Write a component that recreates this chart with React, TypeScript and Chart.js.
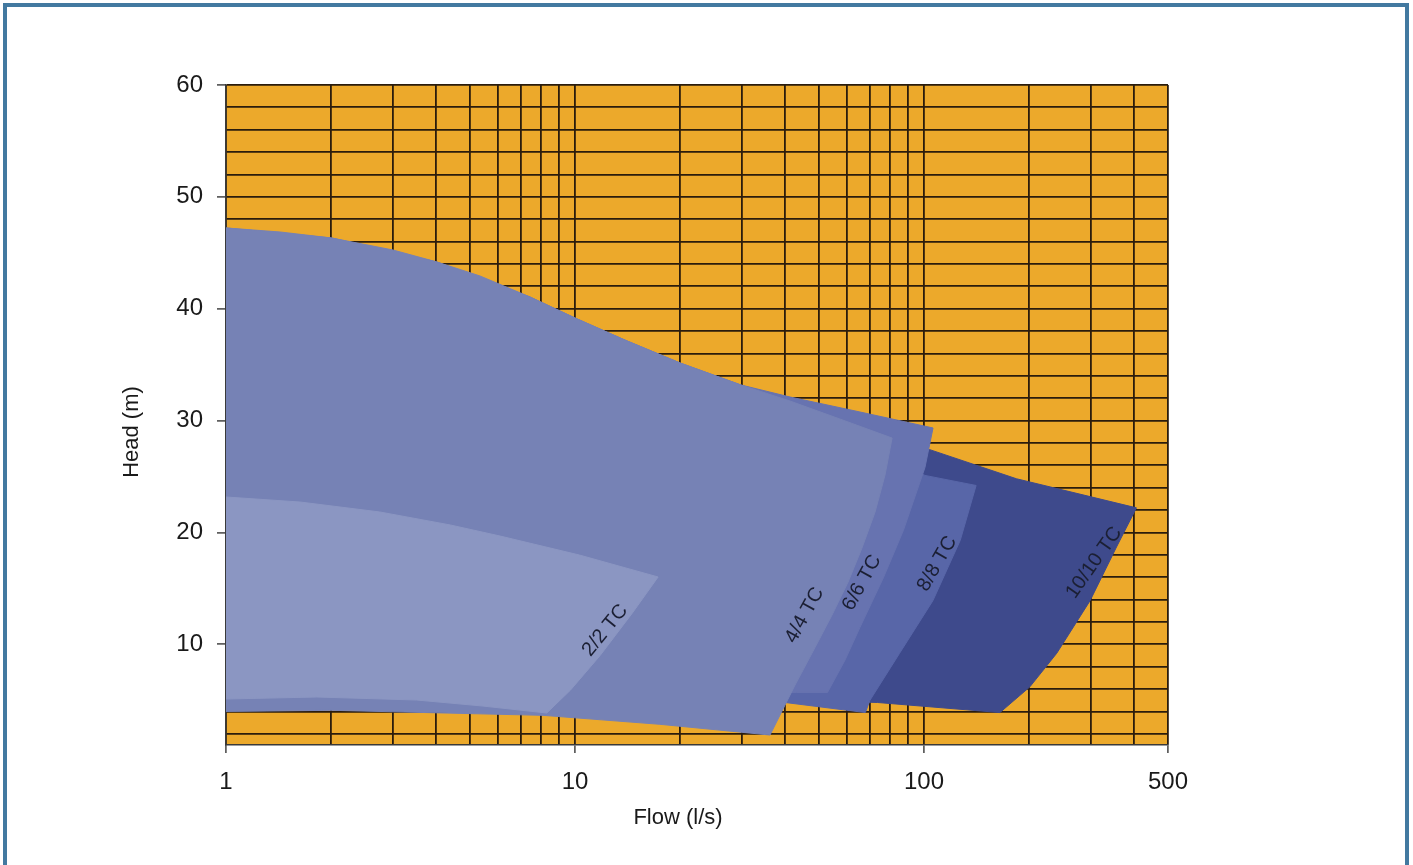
import { useEffect, useRef } from 'react';
import { Chart, registerables } from 'chart.js';

Chart.register(...registerables);

// ---- axes ----
const flowTicks = [1, 2, 3, 4, 5, 6, 7, 8, 9, 10, 20, 30, 40, 50, 60, 70, 80, 90, 100, 200, 300, 400, 500];
const flowTickLabels = [1, 10, 100, 500];
const headTicks = [2, 4, 6, 8, 10, 12, 14, 16, 18, 20, 22, 24, 26, 28, 30, 32, 34, 36, 38, 40, 42, 44, 46, 48, 50, 52, 54, 56, 58, 60];
const headTickLabels = [10, 20, 30, 40, 50, 60];

// ---- pump ranges (flow l/s, head m), outline of each area ----
const flow22 = [1, 1.63, 2.76, 4.39, 6.1, 10.3, 17.3, 14.6, 11.8, 9.7, 8.3, 5.45, 3.52, 1.82, 1, 1];
const head22 = [23.17, 22.72, 21.83, 20.67, 19.68, 17.98, 16.02, 12.8, 9.0, 5.9, 3.86, 4.48, 5.02, 5.29, 5.11, 23.17];

const flow44 = [1, 1.43, 2.01, 3.01, 4.02, 5.34, 7.43, 10, 13.9, 20, 29.9, 41.3, 57.4, 81, 77.3, 72.4, 66.4, 60.6, 54.5, 48.7, 42.7, 36.2, 17.5, 8.1, 2.01, 1, 1];
const head44 = [47.22, 46.86, 46.32, 45.25, 44.18, 42.93, 41.05, 39.17, 37.2, 35.15, 33.18, 31.75, 30.14, 28.44, 25.13, 21.83, 18.61, 15.57, 12.62, 9.71, 6.36, 1.89, 2.85, 3.65, 4.1, 4.0, 47.22];

const flow66 = [1, 2.01, 4.02, 7.43, 10, 13.9, 20, 29.9, 41.3, 65.5, 106.1, 100.6, 87.3, 76.6, 65.5, 59.4, 52.9, 43.1, 1, 1];
const head66 = [47.22, 46.32, 44.18, 41.05, 39.17, 37.2, 35.15, 33.18, 32.11, 30.77, 29.34, 25.8, 20.2, 16.0, 11.5, 8.6, 5.7, 5.7, 5.8, 47.22];

const flow88 = [22.8, 65.5, 100.6, 141, 127, 106, 85.1, 70, 67.9, 40, 22.8, 22.8];
const head88 = [31.7, 28.25, 25.1, 24.2, 19.3, 13.9, 9.2, 5.0, 3.9, 4.8, 5.0, 31.7];

const flow1010 = [44.1, 103.9, 184, 406, 356, 299, 240, 201, 165, 73.6, 44.1, 44.1];
const head1010 = [29.6, 27.4, 24.8, 22.2, 18.7, 13.9, 9.2, 6.2, 3.9, 4.8, 5.0, 29.6];

// ---- range labels ----
const labelTexts = ['2/2 TC', '4/4 TC', '6/6 TC', '8/8 TC', '10/10 TC'];
const labelFlow = [12.2, 45.5, 66.4, 109, 307];
const labelHead = [11.25, 12.6, 15.5, 17.2, 17.3];
const labelAngle = [-51, -61, -61, -60, -55];

const FONT = '"Liberation Sans", Arial, Helvetica, sans-serif';

const toPoints = (f: number[], h: number[]) => f.map((x, i) => ({ x, y: h[i] }));

const area = (label: string, f: number[], h: number[], color: string, order: number) => ({
  label,
  data: toPoints(f, h),
  showLine: true,
  fill: 'shape',
  backgroundColor: color,
  borderColor: color,
  borderWidth: 1,
  pointRadius: 0,
  pointHoverRadius: 0,
  tension: 0,
  order,
});

const plotBackground = {
  id: 'plotBackground',
  beforeDraw(chart: any) {
    const { ctx, chartArea } = chart;
    ctx.save();
    ctx.fillStyle = '#ECA92B';
    ctx.fillRect(chartArea.left, chartArea.top, chartArea.right - chartArea.left, chartArea.bottom - chartArea.top);
    ctx.restore();
  },
};

const rangeLabels = {
  id: 'rangeLabels',
  afterDatasetsDraw(chart: any) {
    const { ctx, scales } = chart;
    ctx.save();
    ctx.font = `20px ${FONT}`;
    ctx.fillStyle = '#1b1f33';
    ctx.textAlign = 'center';
    ctx.textBaseline = 'middle';
    labelTexts.forEach((t, i) => {
      const x = scales.x.getPixelForValue(labelFlow[i]);
      const y = scales.y.getPixelForValue(labelHead[i]);
      ctx.save();
      ctx.translate(x, y);
      ctx.rotate((labelAngle[i] * Math.PI) / 180);
      ctx.fillText(t, 0, 0);
      ctx.restore();
    });
    ctx.restore();
  },
};

const axisTitles = {
  id: 'axisTitles',
  afterDraw(chart: any) {
    const { ctx, chartArea } = chart;
    ctx.save();
    ctx.font = `22px ${FONT}`;
    ctx.fillStyle = '#1a1a1a';
    ctx.textAlign = 'center';
    ctx.textBaseline = 'middle';
    ctx.fillText('Flow (l/s)', (chartArea.left + chartArea.right) / 2 - 19, chartArea.bottom + 73);
    ctx.translate(chartArea.left - 94, (chartArea.top + chartArea.bottom) / 2 + 17);
    ctx.rotate(-Math.PI / 2);
    ctx.fillText('Head (m)', 0, 0);
    ctx.restore();
  },
};

export default function App() {
  const canvasRef = useRef<HTMLCanvasElement>(null);

  useEffect(() => {
    if (!canvasRef.current) return;
    const chart = new Chart(canvasRef.current, {
      type: 'scatter',
      data: {
        datasets: [
          area('2/2 TC', flow22, head22, '#8B96C2', 0),
          area('4/4 TC', flow44, head44, '#7682B5', 1),
          area('6/6 TC', flow66, head66, '#6773B0', 2),
          area('8/8 TC', flow88, head88, '#5866A8', 3),
          area('10/10 TC', flow1010, head1010, '#3E4A8C', 4),
        ] as any,
      },
      options: {
        animation: false,
        responsive: false,
        devicePixelRatio: 1,
        events: [],
        layout: { padding: { top: 85, right: 245, bottom: 0, left: 0 } },
        plugins: {
          legend: { display: false },
          tooltip: { enabled: false },
          title: { display: false },
        },
        scales: {
          x: {
            type: 'logarithmic',
            min: 1,
            max: 500,
            afterBuildTicks: (s: any) => {
              s.ticks = flowTicks.map((v) => ({ value: v }));
            },
            afterFit: (s: any) => {
              s.height = 120;
            },
            ticks: {
              autoSkip: false,
              maxRotation: 0,
              padding: 15,
              color: '#1a1a1a',
              font: { family: FONT, size: 24 },
              callback: (v: any) => (flowTickLabels.includes(Number(v)) ? String(v) : ''),
            },
            grid: {
              color: '#2a1c0c',
              lineWidth: 1.8,
              tickLength: 8,
              tickWidth: 1.5,
              tickColor: (c: any) => (c.tick && flowTickLabels.includes(c.tick.value) ? '#444' : 'rgba(0,0,0,0)'),
            },
            border: { display: true, color: '#3a3a3a', width: 1.5 },
            title: { display: false },
          },
          y: {
            type: 'linear',
            min: 1,
            max: 60,
            afterBuildTicks: (s: any) => {
              s.ticks = headTicks.map((v) => ({ value: v }));
            },
            afterFit: (s: any) => {
              s.width = 226;
            },
            ticks: {
              autoSkip: false,
              padding: 14,
              color: '#1a1a1a',
              font: { family: FONT, size: 24 },
              callback: (v: any) => (headTickLabels.includes(Number(v)) ? String(v) : ''),
            },
            grid: {
              color: '#2a1c0c',
              lineWidth: 1.8,
              tickLength: 9,
              tickWidth: 1.5,
              tickColor: (c: any) => (c.tick && headTickLabels.includes(c.tick.value) ? '#444' : 'rgba(0,0,0,0)'),
            },
            border: { display: true, color: '#3a3a3a', width: 1.5 },
            title: { display: false },
          },
        },
      },
      plugins: [plotBackground, rangeLabels, axisTitles],
    });
    return () => chart.destroy();
  }, []);

  return (
    <div style={{ position: 'fixed', left: 0, top: 0, width: 1413, height: 865, background: '#fff', overflow: 'hidden' }}>
      <canvas ref={canvasRef} width={1413} height={865} style={{ position: 'absolute', left: 0, top: 0, width: 1413, height: 865 }} />
      <div
        style={{
          position: 'absolute',
          left: 3,
          top: 3,
          width: 1398,
          height: 900,
          borderTop: '4px solid #4279a0',
          borderLeft: '4px solid #4279a0',
          borderRight: '4px solid #4279a0',
          pointerEvents: 'none',
        }}
      />
    </div>
  );
}
